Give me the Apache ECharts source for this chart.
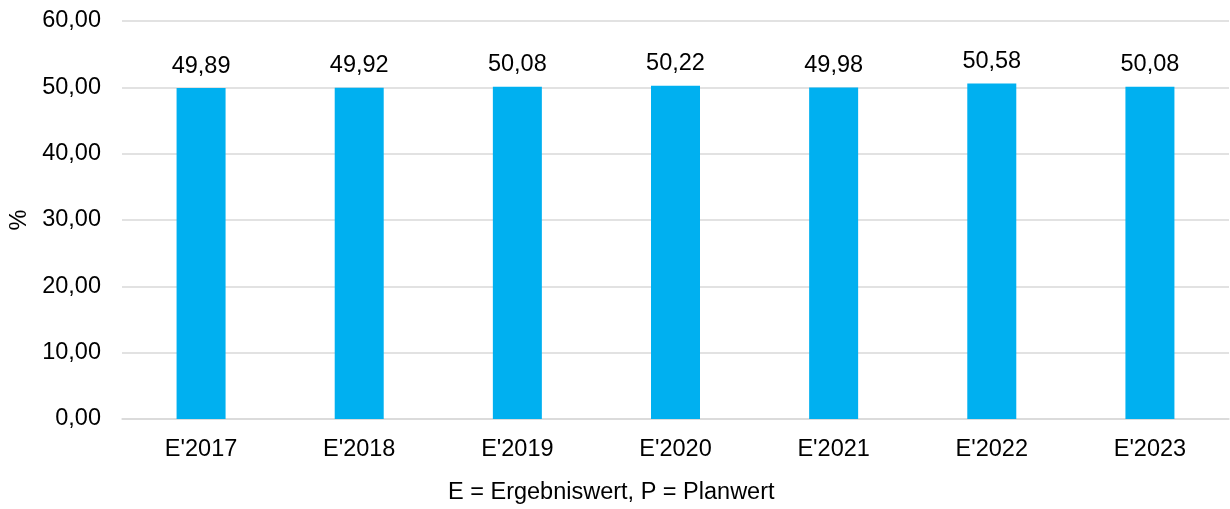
<!DOCTYPE html>
<html>
<head>
<meta charset="utf-8">
<script src="https://cdn.jsdelivr.net/npm/echarts@6/dist/echarts.min.js"></script>
<style>
  html, body { margin: 0; padding: 0; background: #fff; }
  #chart-container { width: 1230px; height: 509px; }
</style>
</head>
<body>
<div id="chart-container"></div>
<script>
var dom = document.getElementById('chart-container');
var myChart = echarts.init(dom, null, { renderer: 'canvas' });

const categories = ["E'2017", "E'2018", "E'2019", "E'2020", "E'2021", "E'2022", "E'2023"];
const values = [49.89, 49.92, 50.08, 50.22, 49.98, 50.58, 50.08];

const fmt = function (v) {
  return Number(v).toFixed(2).replace('.', ',');
};

const font = 'Liberation Sans, Arial, sans-serif';
const fs = 23.5;

var option = {
  animation: false,
  textStyle: { fontFamily: font },
  grid: {
    left: 122,
    right: 1,
    top: 21,
    bottom: 90,
    containLabel: false,
    outerBoundsMode: 'none'
  },
  graphic: [{
    type: 'text',
    x: 448,
    y: 493,
    style: {
      text: 'E = Ergebniswert, P = Planwert',
      font: fs + 'px ' + font,
      fill: '#000',
      verticalAlign: 'middle'
    }
  }],
  xAxis: {
    type: 'category',
    data: categories,
    axisLine: { lineStyle: { color: '#d9d9d9', width: 1.5 } },
    axisTick: { show: false },
    axisLabel: { color: '#000', fontSize: fs, margin: 19, fontFamily: font }
  },
  yAxis: {
    type: 'value',
    min: 0,
    max: 60,
    interval: 10,
    name: '%',
    nameLocation: 'middle',
    nameGap: 87,
    nameTextStyle: { color: '#000', fontSize: fs, fontFamily: font },
    axisLine: { show: false },
    axisTick: { show: false },
    axisLabel: {
      color: '#000',
      fontSize: fs,
      margin: 21,
      fontFamily: font,
      formatter: fmt
    },
    splitLine: { lineStyle: { color: '#d9d9d9', width: 1.5 } }
  },
  series: [{
    type: 'bar',
    data: values,
    barWidth: 49,
    itemStyle: { color: '#00b0f0' },
    label: {
      show: true,
      position: 'top',
      distance: 10,
      color: '#000',
      fontSize: fs,
      fontFamily: font,
      formatter: function (p) { return fmt(p.value); }
    }
  }]
};

myChart.setOption(option);
window.addEventListener('resize', myChart.resize);
</script>
</body>
</html>
